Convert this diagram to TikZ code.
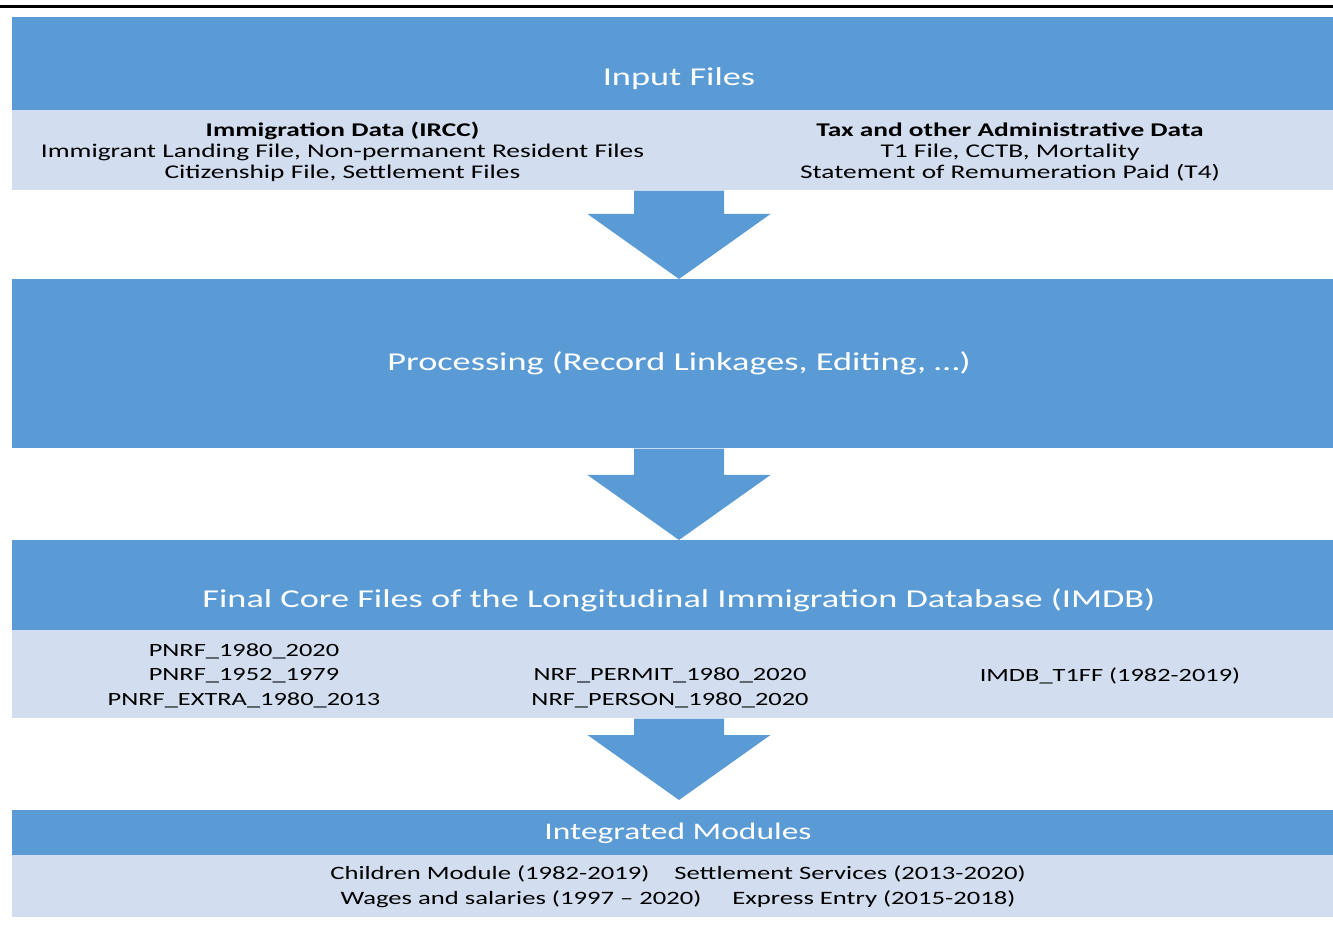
\documentclass[tikz,border=0pt]{standalone}
\usepackage{fontspec}
\setmainfont{Carlito}[FakeStretch=1.41]
\usepackage{tikz}

\definecolor{bandblue}{HTML}{5B9BD5}
\definecolor{bandlight}{HTML}{D2DEEF}

\tikzset{
    band/.style={anchor=north west, inner sep=0pt, minimum width=26.42cm},
    headband/.style={band, fill=bandblue},
    subband/.style={band, fill=bandlight},
    headtext/.style={text=white, font=\fontsize{14.65}{18}\selectfont},
    subtext/.style={align=center, font=\fontsize{11.05}{11.95}\selectfont},
    flowarrow/.style={fill=bandblue}
}

\begin{document}
\begin{tikzpicture}
        \useasboundingbox (0,0) rectangle (26.66,-18.54);
        \draw[line width=1.7pt] (0,-0.13) -- (26.66,-0.13);

        % bands
        \node[headband, minimum height=1.86cm] (inhead) at (0.24,-0.34) {};
        \node[subband, minimum height=1.60cm] (insub) at (0.24,-2.20) {};
        \node[headband, minimum height=3.38cm] (proc) at (0.24,-5.58) {};
        \node[headband, minimum height=1.80cm] (core) at (0.24,-10.80) {};
        \node[subband, minimum height=1.76cm] (coresub) at (0.24,-12.60) {};
        \node[headband, minimum height=0.90cm] (mods) at (0.24,-16.20) {};
        \node[subband, minimum height=1.24cm] (modsub) at (0.24,-17.10) {};

        % arrows between the bands
        \foreach \src/\dst/\gap in {insub/proc/0cm, proc/core/0cm, coresub/mods/0.2cm} {
                \coordinate (top) at (13.58,0 |- \src.south);
                \coordinate (tip) at ([yshift=\gap]13.58,0 |- \dst.north);
                \fill[flowarrow] ([xshift=-0.9cm]top) -- ([xshift=-0.9cm,yshift=1.3cm]tip)
                        -- ([xshift=-1.83cm,yshift=1.3cm]tip) -- (tip)
                        -- ([xshift=1.83cm,yshift=1.3cm]tip) -- ([xshift=0.9cm,yshift=1.3cm]tip)
                        -- ([xshift=0.9cm]top) -- cycle;
            }

        % texts
        \node[headtext] (intitle) at (13.58,-1.58) {Input Files};
        \node[subtext] (imm) at (6.85,-3.04) {\textbf{Immigration Data (IRCC)}\\Immigrant Landing File, Non-permanent Resident Files\\Citizenship File, Settlement Files};
        \node[subtext] (tax) at (20.20,-3.04) {\textbf{Tax and other Administrative Data}\\T1 File, CCTB, Mortality\\Statement of Remumeration Paid (T4)};

        \node[headtext] (proctitle) at (13.58,-7.26) {Processing (Record Linkages, Editing, \dots)};

        \node[headtext] (coretitle) at (13.58,-12.00) {Final Core Files of the Longitudinal Immigration Database (IMDB)};
        \node[subtext, font=\fontsize{10.65}{13.9}\selectfont] (pnrf) at (4.88,-13.51) {PNRF\_1980\_2020\\PNRF\_1952\_1979\\PNRF\_EXTRA\_1980\_2013};
        \node[subtext, font=\fontsize{10.65}{13.9}\selectfont] (nrf) at (13.40,-13.76) {NRF\_PERMIT\_1980\_2020\\NRF\_PERSON\_1980\_2020};
        \node[subtext, font=\fontsize{10.65}{13.9}\selectfont] (t1ff) at (22.20,-13.52) {IMDB\_T1FF (1982-2019)};

        \node[headtext, font=\fontsize{13.5}{16}\selectfont] (modtitle) at (13.56,-16.66) {Integrated Modules};
        \node[subtext, font=\fontsize{10.75}{14.2}\selectfont] (modlist) at (13.56,-17.73) {Children Module (1982-2019)\quad\ Settlement Services (2013-2020)\\Wages and salaries (1997 -- 2020)\quad\ \ Express Entry (2015-2018)};
    \end{tikzpicture}
\end{document}
